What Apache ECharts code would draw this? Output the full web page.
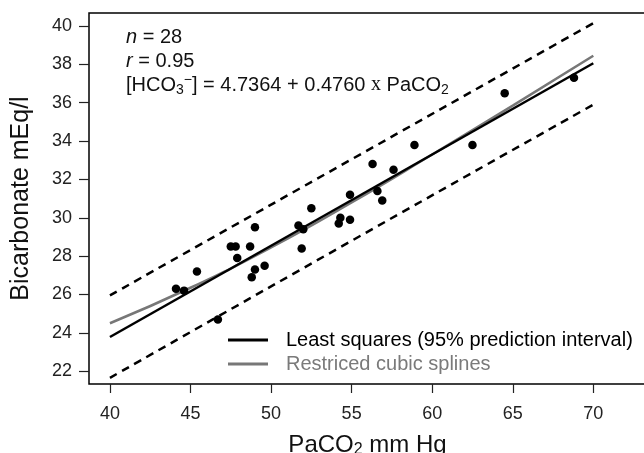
<!DOCTYPE html>
<html>
<head>
<meta charset="utf-8">
<script src="https://cdn.jsdelivr.net/npm/echarts@6/dist/echarts.min.js"></script>
<style>
  html, body { margin: 0; padding: 0; background: #fff; }
  #chart { width: 644px; height: 453px; }
</style>
</head>
<body>
<div id="chart"></div>
<script>
  // observed points
  var paco2 = [44.1, 44.6, 45.4, 46.7, 47.5, 47.8, 47.9, 48.7, 49.0, 49.0, 48.8, 49.6, 51.7, 52.0,
               52.5, 51.9, 54.3, 54.2, 54.9, 54.9, 56.3, 56.6, 56.9, 57.6, 58.9, 62.5, 64.5, 68.8]
  var hco3 = [26.3, 26.2, 27.2, 24.7, 28.5, 28.5, 27.9, 28.5, 29.5, 27.3, 26.9, 27.5, 29.6, 29.4,
              30.5, 28.4, 30.0, 29.7, 29.9, 31.2, 32.8, 31.4, 30.9, 32.5, 33.8, 33.8, 36.5, 37.3]

  // least squares line and 95% prediction band
  var lsX = [40, 70]
  var lsY = [23.78, 38.06]
  var piX = [40, 55, 70]
  var piUpper = [25.95, 33.05, 40.15]
  var piLower = [21.65, 28.8, 35.9]

  // restricted cubic spline
  var splX = [40, 45, 50, 55, 60, 65, 70]
  var splY = [24.5, 26.35, 28.45, 30.8, 33.3, 35.85, 38.45]

  var xTicks = [40, 45, 50, 55, 60, 65, 70]
  var yTicks = [22, 24, 26, 28, 30, 32, 34, 36, 38, 40]

  var lsName = 'Least squares (95% prediction interval)'
  var splName = 'Restriced cubic splines'

  function pairs(xs, ys) {
    var out = []
    for (var i = 0; i < xs.length; i++) {
      out.push([xs[i], ys[i]])
    }
    return out
  }

  var font = '"Liberation Sans", Arial, sans-serif'
  var chart = echarts.init(document.getElementById('chart'))

  chart.setOption({
    backgroundColor: '#fff',
    animation: false,
    textStyle: { fontFamily: font },
    grid: {
      left: 89,
      right: -2,
      top: 13,
      bottom: 69,
      outerBoundsMode: 'none',
      containLabel: false,
      show: true,
      borderColor: '#000',
      borderWidth: 1.5,
      backgroundColor: 'transparent'
    },
    xAxis: {
      type: 'value',
      min: 38.7,
      max: 73.27,
      name: 'PaCO{sub|2} mm Hg',
      nameLocation: 'middle',
      nameGap: 48,
      nameTextStyle: {
        fontSize: 24,
        color: '#111',
        fontFamily: font,
        rich: {
          sub: { fontSize: 16, verticalAlign: 'bottom', padding: [10, 0, 0, 0], color: '#111' }
        }
      },
      splitLine: { show: false },
      axisLine: { show: false },
      axisTick: {
        show: true,
        inside: false,
        length: 9,
        customValues: xTicks,
        lineStyle: { color: '#222', width: 1.2 }
      },
      axisLabel: {
        customValues: xTicks,
        margin: 21,
        fontSize: 18,
        color: '#222',
        fontFamily: font
      }
    },
    yAxis: {
      type: 'value',
      min: 21.33,
      max: 40.68,
      name: 'Bicarbonate mEq/l',
      nameLocation: 'middle',
      nameRotate: 90,
      nameGap: 55,
      nameTextStyle: { fontSize: 25, color: '#111', fontFamily: font },
      splitLine: { show: false },
      axisLine: { show: false },
      axisTick: {
        show: true,
        inside: false,
        length: 10,
        customValues: yTicks,
        lineStyle: { color: '#222', width: 1.2 }
      },
      axisLabel: {
        customValues: yTicks,
        margin: 17,
        fontSize: 18,
        color: '#222',
        fontFamily: font
      }
    },
    legend: {
      orient: 'vertical',
      left: 223,
      top: 325,
      itemWidth: 40,
      itemHeight: 3,
      itemGap: 4,
      icon: 'rect',
      data: [
        { name: lsName, textStyle: { color: '#000' } },
        { name: splName, textStyle: { color: '#7a7a7a' } }
      ],
      textStyle: { fontSize: 20, fontFamily: font, padding: [0, 0, 0, 13] }
    },
    graphic: [
      {
        type: 'text',
        left: 126,
        top: 25,
        style: {
          text: '{i|n} = 28\n{i|r} = 0.95\n[HCO{sub|3}{sup|\u2212}] = 4.7364 + 0.4760 {x|x} PaCO{sub|2}',
          fontSize: 20,
          lineHeight: 24,
          fontFamily: font,
          fill: '#111',
          rich: {
            i: { fontStyle: 'italic', fontSize: 20, fontFamily: font, fill: '#111' },
            sub: { fontSize: 14, verticalAlign: 'bottom', padding: [10, 0, 0, 0], fill: '#111' },
            sup: { fontSize: 14, verticalAlign: 'top', padding: [0, 0, 9, 0], fill: '#111' },
            x: { fontFamily: '"Liberation Serif", serif', fontSize: 20, fill: '#111' }
          }
        }
      }
    ],
    series: [
      {
        name: 'upper',
        type: 'line',
        data: pairs(piX, piUpper),
        smooth: true,
        symbol: 'none',
        lineStyle: { color: '#000', width: 2.5, type: [8, 6] },
        z: 2
      },
      {
        name: 'lower',
        type: 'line',
        data: pairs(piX, piLower),
        smooth: true,
        symbol: 'none',
        lineStyle: { color: '#000', width: 2.5, type: [8, 6] },
        z: 2
      },
      {
        name: splName,
        type: 'line',
        data: pairs(splX, splY),
        smooth: true,
        symbol: 'none',
        color: '#777',
        lineStyle: { color: '#777', width: 2.5 },
        z: 3
      },
      {
        name: lsName,
        type: 'line',
        data: pairs(lsX, lsY),
        symbol: 'none',
        color: '#000',
        lineStyle: { color: '#000', width: 2.5 },
        z: 4
      },
      {
        name: 'points',
        type: 'scatter',
        data: pairs(paco2, hco3),
        symbolSize: 8.5,
        itemStyle: { color: '#000', opacity: 1 },
        z: 5
      }
    ]
  })
</script>
</body>
</html>
